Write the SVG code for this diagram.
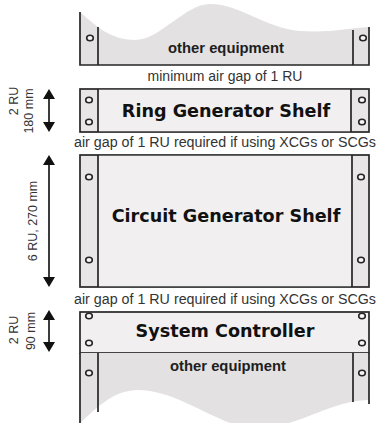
<svg xmlns="http://www.w3.org/2000/svg" width="377" height="423" viewBox="0 0 377 423">
<defs>
<style>
.equip{fill:#e3e1e1;stroke:none}
.rail{fill:#e8e6e6;stroke:none}
.face{fill:#f1efef;stroke:none}
.ln{fill:none;stroke:#262626;stroke-width:1.7}
.box{stroke:#262626;stroke-width:1.7}
.hole{fill:#f6f6f6;stroke:#262626;stroke-width:1.6}
.big{font-family:"DejaVu Sans",sans-serif;font-weight:bold;font-size:17.6px;fill:#111;text-anchor:middle}
.eq{font-family:"Liberation Sans",Arial,sans-serif;font-weight:bold;font-size:14.8px;fill:#1e1e1e;text-anchor:middle}
.gap{font-family:"Liberation Sans",Arial,sans-serif;font-size:14px;fill:#333;text-anchor:middle}
.dim{font-family:"Liberation Sans",Arial,sans-serif;font-size:12.5px;fill:#333;text-anchor:middle}
.arr{stroke:#1a1a1a;stroke-width:1.7;fill:none}
</style>
<marker id="ah" markerUnits="userSpaceOnUse" markerWidth="10" markerHeight="12" viewBox="0 0 10 12" refX="7" refY="6" orient="auto-start-reverse">
<path d="M0,0 L10,6 L0,12 Z" fill="#111"/>
</marker>
</defs>
<rect width="377" height="423" fill="#fff"/>

<g id="top-equipment">
<path class="equip" d="M80,12 C95,25 110,40 135,40 C160,40 185,4 210,4 C240,4 265,28 300,31 C330,33 350,28 369,27 L369,65 L80,65 Z"/>
<path class="ln" d="M80,12 V65 H369 V27 M98,27 V65 M353,30 V65"/>
<ellipse class="hole" cx="90" cy="38" rx="3.3" ry="2.7"/>
<ellipse class="hole" cx="363" cy="38" rx="3.3" ry="2.7"/>
<text class="eq" x="226" y="53">other equipment</text>
</g>

<g id="ring-generator-shelf">
<rect class="rail box" x="80" y="89" width="289" height="43"/>
<rect class="face" x="98.8" y="89.8" width="251.4" height="41.4"/>
<path class="ln" d="M98,89 V132 M351,89 V132"/>
<ellipse class="hole" cx="89" cy="100" rx="3.3" ry="2.7"/>
<ellipse class="hole" cx="89" cy="122" rx="3.3" ry="2.7"/>
<ellipse class="hole" cx="362" cy="100" rx="3.3" ry="2.7"/>
<ellipse class="hole" cx="362" cy="122" rx="3.3" ry="2.7"/>
<text class="big" x="226" y="117">Ring Generator Shelf</text>
</g>

<g id="circuit-generator-shelf">
<rect class="rail box" x="80" y="155" width="289" height="132"/>
<rect class="face" x="98.8" y="155.8" width="252.4" height="130.4"/>
<path class="ln" d="M98,155 V287 M352,155 V287"/>
<ellipse class="hole" cx="89" cy="177" rx="3.3" ry="2.7"/>
<ellipse class="hole" cx="89" cy="260" rx="3.3" ry="2.7"/>
<ellipse class="hole" cx="361" cy="177" rx="3.3" ry="2.7"/>
<ellipse class="hole" cx="361" cy="260" rx="3.3" ry="2.7"/>
<text class="big" x="226" y="222">Circuit Generator Shelf</text>
</g>

<g id="system-controller">
<rect class="face box" x="80" y="312" width="289" height="41"/>
<ellipse class="hole" cx="89" cy="316" rx="3.3" ry="2.7"/>
<ellipse class="hole" cx="89" cy="343" rx="3.3" ry="2.7"/>
<ellipse class="hole" cx="362" cy="316" rx="3.3" ry="2.7"/>
<ellipse class="hole" cx="362" cy="343" rx="3.3" ry="2.7"/>
<text class="big" x="225" y="337">System Controller</text>
</g>

<g id="bottom-equipment">
<path class="equip" d="M80,353 H369 V400 C330,400 300,428 255,428 C220,428 180,390 138,390 C112,390 95,410 80,423 Z"/>
<path class="ln" d="M80,353 V423 M369,353 V404 M98,353 V412 M353,353 V402"/>
<ellipse class="hole" cx="89" cy="373" rx="3.3" ry="2.7"/>
<ellipse class="hole" cx="362" cy="373" rx="3.3" ry="2.7"/>
<text class="eq" x="228" y="371">other equipment</text>
</g>

<g id="gap-labels">
<text class="gap" x="225" y="81">minimum air gap of 1 RU</text>
<text class="gap" x="225" y="147" textLength="302" lengthAdjust="spacingAndGlyphs">air gap of 1 RU required if using XCGs or SCGs</text>
<text class="gap" x="225" y="304" textLength="302" lengthAdjust="spacingAndGlyphs">air gap of 1 RU required if using XCGs or SCGs</text>
</g>

<g id="dimension-labels">
<text class="dim" transform="translate(18,101) rotate(-90)">2 RU</text>
<text class="dim" transform="translate(33,111) rotate(-90)">180 mm</text>
<text class="dim" transform="translate(37,221) rotate(-90)">6 RU, 270 mm</text>
<text class="dim" transform="translate(18,330) rotate(-90)">2 RU</text>
<text class="dim" transform="translate(35,331) rotate(-90)">90 mm</text>
</g>

<g id="connectors">
<line class="arr" x1="49" y1="92" x2="49" y2="129" marker-start="url(#ah)" marker-end="url(#ah)"/>
<line class="arr" x1="49" y1="158" x2="49" y2="284" marker-start="url(#ah)" marker-end="url(#ah)"/>
<line class="arr" x1="49" y1="313" x2="49" y2="349" marker-start="url(#ah)" marker-end="url(#ah)"/>
</g>
</svg>
